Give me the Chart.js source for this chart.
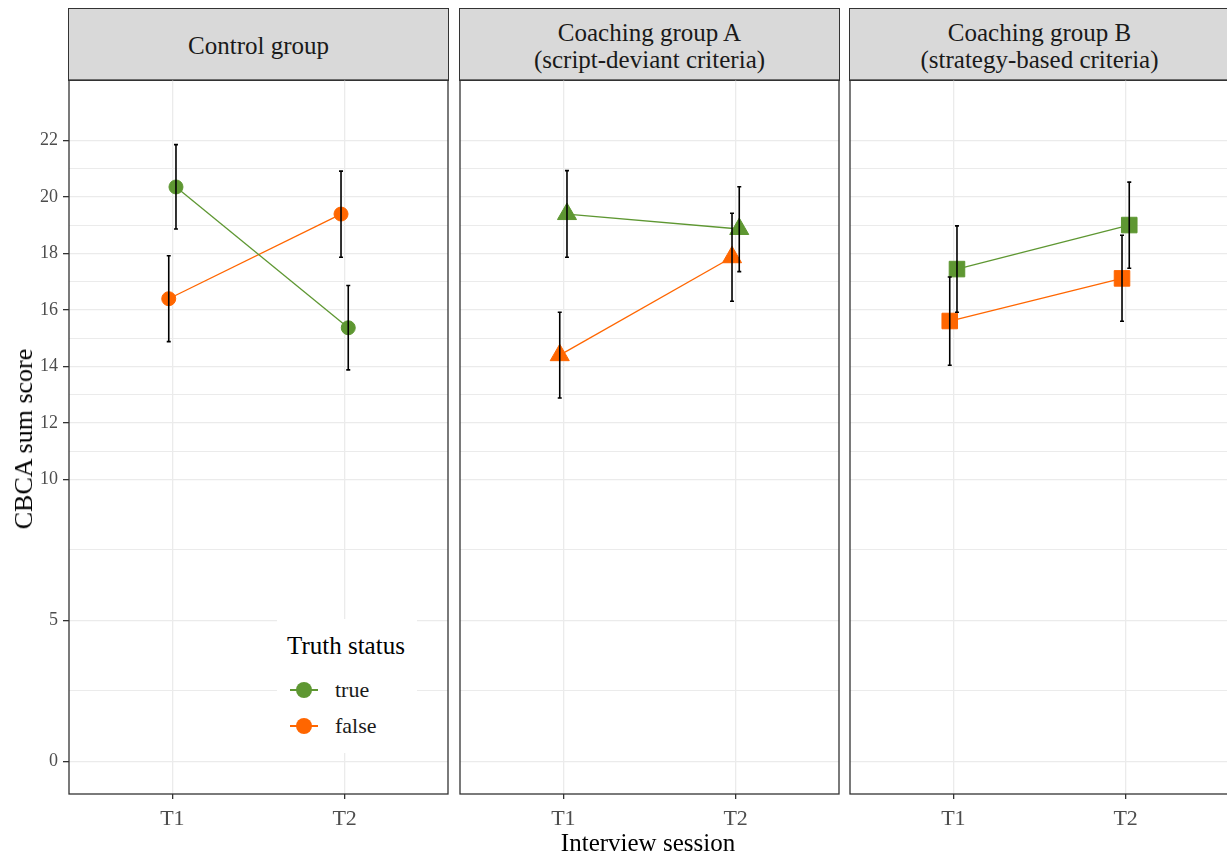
<!DOCTYPE html>
<html>
<head>
<meta charset="utf-8">
<script src="https://cdn.jsdelivr.net/npm/chart.js@4.4.1/dist/chart.umd.min.js"></script>
<style>
    html, body { margin: 0; padding: 0; background: #fff; overflow: hidden; }
    body { width: 1227px; height: 857px; position: relative; font-family: "Liberation Serif", "DejaVu Serif", serif; }
    canvas { position: absolute; }
    .strip {
        position: absolute; top: 8px; height: 73px; width: 381px;
        background: #d9d9d9; border: 1px solid #333; box-sizing: border-box;
        display: flex; align-items: center; justify-content: center; text-align: center;
        font-size: 25px; line-height: 27px; color: #1a1a1a; padding-top: 2px;
    }
    .axis-title { position: absolute; white-space: nowrap; color: #000; transform: translate(-50%, -50%); }
    #legend { position: absolute; left: 277px; top: 619px; width: 140px; height: 134px; background: #fff; }
    #legend .title { position: absolute; left: 10px; top: 27px; transform: translateY(-50%); font-size: 25px; color: #000; white-space: nowrap; }
    #legend .item { position: absolute; left: 0; width: 140px; height: 30px; transform: translateY(-50%); }
    #legend .key-line { position: absolute; left: 13px; top: 14px; width: 28px; height: 1.5px; }
    #legend .key-dot { position: absolute; left: 19px; top: 7px; width: 16px; height: 16px; border-radius: 50%; }
    #legend .label { position: absolute; left: 58px; top: 15px; transform: translateY(-50%); font-size: 22px; color: #1a1a1a; }
</style>
</head>
<body>
<div id="strips"></div>
<div id="charts"></div>
<div class="axis-title" style="left:24px; top:439px; font-size:26px; transform: translate(-50%, -50%) rotate(-90deg);">CBCA sum score</div>
<div class="axis-title" style="left:648px; top:843px; font-size:25px;">Interview session</div>
<div id="legend"></div>

<script>
// Data
const sessions = ['T1', 'T2'];
const truthLevels = ['true', 'false'];
const panelTitles = [
    ['Control group'],
    ['Coaching group A', '(script-deviant criteria)'],
    ['Coaching group B', '(strategy-based criteria)']
];
const panelShapes = ['circle', 'triangle', 'rect'];

const yBreaks = [0, 5, 10, 12, 14, 16, 18, 20, 22];
const yMinor = [2.5, 7.5, 11, 13, 15, 17, 19, 21];

// Control group
const controlTrueMean = [20.36, 15.37];
const controlTrueLow = [18.87, 13.88];
const controlTrueHigh = [21.86, 16.87];
const controlFalseMean = [16.40, 19.40];
const controlFalseLow = [14.88, 17.87];
const controlFalseHigh = [17.92, 20.92];

// Coaching group A
const groupATrueMean = [19.40, 18.87];
const groupATrueLow = [17.87, 17.36];
const groupATrueHigh = [20.94, 20.37];
const groupAFalseMean = [14.40, 17.87];
const groupAFalseLow = [12.88, 16.31];
const groupAFalseHigh = [15.92, 19.43];

// Coaching group B
const groupBTrueMean = [17.45, 19.01];
const groupBTrueLow = [15.92, 17.48];
const groupBTrueHigh = [18.98, 20.53];
const groupBFalseMean = [15.61, 17.12];
const groupBFalseLow = [14.04, 15.60];
const groupBFalseHigh = [17.17, 18.65];

const panelData = [
    [[controlTrueMean, controlTrueLow, controlTrueHigh], [controlFalseMean, controlFalseLow, controlFalseHigh]],
    [[groupATrueMean, groupATrueLow, groupATrueHigh], [groupAFalseMean, groupAFalseLow, groupAFalseHigh]],
    [[groupBTrueMean, groupBTrueLow, groupBTrueHigh], [groupBFalseMean, groupBFalseLow, groupBFalseHigh]]
];

const colors = { 'true': '#5e9732', 'false': '#ff6600' };
const dodge = { 'true': 0.021, 'false': -0.021 };
const serif = '"Liberation Serif", "DejaVu Serif", serif';

// Layout
const panelLefts = [69, 460, 850];
const panelWidth = 379;
const axisWidth = 69;
const canvasTop = 70;
const canvasW = axisWidth + panelWidth + 2;
const canvasH = (794 - canvasTop) + 45;

// Rámeček panelu
const panelBorder = {
    id: 'panelBorder',
    afterDraw(chart) {
        const { ctx, chartArea: a } = chart;
        ctx.save();
        ctx.strokeStyle = '#333';
        ctx.lineWidth = 1.3;
        ctx.strokeRect(a.left, a.top, a.right - a.left, a.bottom - a.top);
        ctx.restore();
    }
};

// Chybové úsečky nad body
const errorBars = {
    id: 'errorBars',
    afterDatasetsDraw(chart) {
        const { ctx, scales: { x, y } } = chart;
        ctx.save();
        ctx.strokeStyle = '#000';
        ctx.lineWidth = 1.6;
        chart.data.datasets.forEach(ds => {
            ds.data.forEach(p => {
                const px = x.getPixelForValue(p.x);
                const top = y.getPixelForValue(p.high);
                const bot = y.getPixelForValue(p.low);
                ctx.beginPath();
                ctx.moveTo(px, top); ctx.lineTo(px, bot);
                ctx.moveTo(px - 2, top); ctx.lineTo(px + 2, top);
                ctx.moveTo(px - 2, bot); ctx.lineTo(px + 2, bot);
                ctx.stroke();
            });
        });
        ctx.restore();
    }
};

function buildPanel(k) {
    // strip
    const strip = document.createElement('div');
    strip.className = 'strip';
    strip.style.left = (panelLefts[k] - 1) + 'px';
    strip.innerHTML = panelTitles[k].join('<br>');
    document.getElementById('strips').appendChild(strip);

    const canvas = document.createElement('canvas');
    canvas.width = canvasW;
    canvas.height = canvasH;
    canvas.style.left = (panelLefts[k] - axisWidth) + 'px';
    canvas.style.top = canvasTop + 'px';
    document.getElementById('charts').appendChild(canvas);

    const datasets = truthLevels.map((level, j) => {
        const [mean, low, high] = panelData[k][j];
        return {
            label: level,
            data: sessions.map((s, i) => ({ x: i + 1 + dodge[level], y: mean[i], low: low[i], high: high[i] })),
            borderColor: colors[level],
            backgroundColor: colors[level],
            borderWidth: 1.3,
            pointStyle: panelShapes[k],
            pointRadius: panelShapes[k] === 'circle' ? 7 : 11,
            pointHoverRadius: panelShapes[k] === 'circle' ? 7 : 11,
            pointBorderWidth: 1,
            pointBorderColor: colors[level],
            pointBackgroundColor: colors[level],
            tension: 0
        };
    });

    const isMajor = v => yBreaks.includes(v);

    new Chart(canvas.getContext('2d'), {
        type: 'line',
        data: { datasets },
        options: {
            responsive: false,
            animation: false,
            devicePixelRatio: 1,
            events: [],
            layout: { autoPadding: false, padding: { top: 10, right: 2, left: 0, bottom: 0 } },
            plugins: { legend: { display: false }, tooltip: { enabled: false } },
            scales: {
                x: {
                    type: 'linear',
                    min: 0.4,
                    max: 2.6,
                    afterBuildTicks: s => { s.ticks = sessions.map((_, i) => ({ value: i + 1 })); },
                    afterFit: s => { s.height = 45; s.paddingLeft = 0; s.paddingRight = 0; },
                    ticks: {
                        callback: v => sessions[v - 1],
                        font: { family: serif, size: 22 },
                        color: '#4d4d4d',
                        padding: 7,
                        maxRotation: 0,
                        autoSkip: false
                    },
                    grid: { color: '#ebebeb', lineWidth: 1.3, tickLength: 5, tickColor: '#333', tickWidth: 1.3 },
                    border: { display: false }
                },
                y: {
                    type: 'linear',
                    min: -1.15,
                    max: 24.15,
                    afterBuildTicks: s => { s.ticks = yBreaks.concat(yMinor).map(v => ({ value: v })); },
                    afterFit: s => { s.width = axisWidth; s.paddingTop = 0; s.paddingBottom = 0; },
                    ticks: {
                        display: k === 0,
                        callback: v => isMajor(v) ? String(v) : '',
                        font: { family: serif, size: 18 },
                        color: '#4d4d4d',
                        padding: 5,
                        autoSkip: false
                    },
                    grid: {
                        color: '#ebebeb',
                        lineWidth: c => (c.tick && isMajor(c.tick.value)) ? 1.3 : 1,
                        drawTicks: k === 0,
                        tickLength: 6,
                        tickWidth: 1.3,
                        tickColor: c => (c.tick && isMajor(c.tick.value)) ? '#333' : 'rgba(0,0,0,0)'
                    },
                    border: { display: false }
                }
            }
        },
        plugins: [errorBars, panelBorder]
    });
}

function buildLegend() {
    const legend = document.getElementById('legend');
    let html = '<div class="title">Truth status</div>';
    const centers = [71, 107];
    truthLevels.forEach((level, j) => {
        html += `<div class="item" style="top:${centers[j]}px">
            <div class="key-line" style="background:${colors[level]}"></div>
            <div class="key-dot" style="background:${colors[level]}"></div>
            <div class="label">${level}</div>
        </div>`;
    });
    legend.innerHTML = html;
}

panelTitles.forEach((_, k) => buildPanel(k));
buildLegend();
</script>
</body>
</html>
